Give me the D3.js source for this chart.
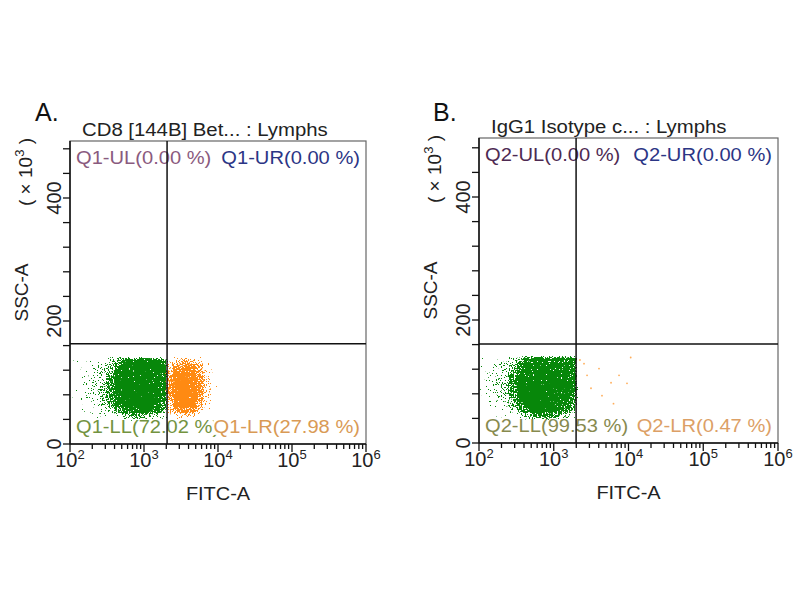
<!DOCTYPE html>
<html lang="en">
<head>
<meta charset="UTF-8">
<title>Flow cytometry quadrants</title>
<script src="https://d3js.org/d3.v7.min.js"></script>
<style>
  body { margin: 0; background: #fff; }
  text { font-family: "Liberation Sans", Arial, sans-serif; }
</style>
</head>
<body>
<svg id="canvas" width="800" height="600"></svg>
<script>
// ---- data ----
// density grids: rows go from SSC 140k (top) down to 40k in 10k steps,
// columns are 0.1-decade FITC bins starting at the given log10 value. 0..9 = empty..solid
const ssc_rows_top = 140, ssc_row_step = 10, fitc_col_step = 0.1;

const a_green_start = 2.0;
const a_green = [
  [1,1,1,2,2,3,5,8,8,8,8,8,7],
  [1,1,1,2,3,4,7,9,9,9,9,9,8],
  [1,1,2,2,3,5,8,9,9,9,9,9,8],
  [1,1,2,2,3,6,9,9,9,9,9,9,8],
  [1,1,2,3,4,6,9,9,9,9,9,9,8],
  [1,1,2,3,4,6,9,9,9,9,9,9,8],
  [1,1,2,2,4,6,8,9,9,9,9,9,7],
  [0,1,1,2,3,5,7,9,9,9,9,8,6],
  [0,1,1,1,2,3,5,7,8,8,8,7,5],
  [0,0,0,1,1,1,2,4,5,5,4,3,2]
];
const a_orange_start = 3.3;
const a_orange = [
  [2,4,5,4,3,1,0],
  [4,6,7,7,5,2,0],
  [5,8,9,8,6,2,1],
  [6,9,9,9,7,3,1],
  [6,9,9,9,7,3,1],
  [6,9,9,9,7,3,0],
  [5,9,9,9,6,2,0],
  [4,8,9,8,5,2,0],
  [3,6,7,6,4,1,0],
  [1,2,3,2,1,0,0]
];
const b_green_start = 2.0;
const b_green = [
  [1,1,1,2,3,5,7,8,8,8,8,8,7],
  [1,1,2,3,4,7,9,9,9,9,9,9,8],
  [1,1,2,3,5,8,9,9,9,9,9,9,8],
  [1,2,2,3,6,9,9,9,9,9,9,9,8],
  [1,2,3,4,6,9,9,9,9,9,9,9,8],
  [1,2,3,4,6,9,9,9,9,9,9,9,8],
  [1,1,2,3,5,8,9,9,9,9,9,9,7],
  [1,1,2,2,4,7,9,9,9,9,9,8,6],
  [0,1,1,2,3,5,7,9,9,9,8,7,5],
  [0,0,1,1,1,2,4,6,6,6,5,3,2]
];
// the few events in panel B's lower-right gate: [FITC, SSC (x10^3)]
const b_orange_events = [
  [2540,129],[4030,121],[5840,98],[7470,110],[9550,97],
  [4420,77],[2790,110],[3150,89],[10700,139],[2240,135],[6300,64]
];

const panel_letters = ["A.", "B."];
const panel_titles = ["CD8 [144B] Bet... : Lymphs", "IgG1 Isotype c... : Lymphs"];
const quad_names = [["Q1-UL","Q1-UR","Q1-LL","Q1-LR"], ["Q2-UL","Q2-UR","Q2-LL","Q2-LR"]];
const quad_pcts = [[0.00, 0.00, 72.02, 27.98], [0.00, 0.00, 99.53, 0.47]];
const gate_fitc = [2050, 1990];
const gate_ssc = [163, 161];
const x_decades = [2, 3, 4, 5, 6];
const y_labels = [0, 200, 400];
const x_title = "FITC-A", y_title = "SSC-A", y_unit = "3";

const green = "#07870a", orange = "#ff8a12";

const svg = d3.select("#canvas");
const defs = svg.append("defs");

// grainy look for the density cells, so they read like a dot plot
function speckle(id, color, seed) {
  const f = defs.append("filter").attr("id", id)
    .attr("x", "-5%").attr("y", "-5%").attr("width", "110%").attr("height", "110%")
    .attr("color-interpolation-filters", "sRGB");
  f.append("feTurbulence").attr("type", "fractalNoise").attr("baseFrequency", 0.75)
    .attr("numOctaves", 2).attr("seed", seed).attr("result", "n");
  f.append("feColorMatrix").attr("in", "n").attr("type", "matrix")
    .attr("values", "0 0 0 0 0  0 0 0 0 0  0 0 0 0 0  2 0 0 0 -0.5").attr("result", "na");
  f.append("feGaussianBlur").attr("in", "SourceAlpha").attr("stdDeviation", 1.2).attr("result", "sa");
  f.append("feComposite").attr("in", "sa").attr("in2", "na").attr("operator", "arithmetic")
    .attr("k1", 0).attr("k2", 1.1).attr("k3", 1).attr("k4", -1.08).attr("result", "m");
  f.append("feComponentTransfer").attr("in", "m").attr("result", "mm")
    .append("feFuncA").attr("type", "linear").attr("slope", 30).attr("intercept", 0);
  f.append("feFlood").attr("flood-color", color).attr("result", "c");
  f.append("feComposite").attr("in", "c").attr("in2", "mm").attr("operator", "in");
}
speckle("sp-green", green, 4);
speckle("sp-orange", orange, 9);

// text squeezed a little wider, like the exported figure
function label(parent, x, y, str, size, color, anchor, sx) {
  const g = parent.append("g").attr("transform", `translate(${x},${y}) scale(${sx || 1},1)`);
  const t = g.append("text").attr("font-size", size).attr("fill", color)
    .attr("text-anchor", anchor || "start").text(str);
  return {g, t};
}

const panels = [
  {x0: 70, x1: 366, y0: 141, y1: 444, letterX: 35,
   dens: [{grid: a_green, start: a_green_start, color: green, f: "sp-green"},
          {grid: a_orange, start: a_orange_start, color: orange, f: "sp-orange"}],
   events: [], labelColors: ["#8a5a7e", "#2b3585", "#73933f", "#d99a55"]},
  {x0: 479, x1: 778, y0: 138, y1: 443, letterX: 433,
   dens: [{grid: b_green, start: b_green_start, color: green, f: "sp-green"}],
   events: b_orange_events, labelColors: ["#4e2a52", "#2b3585", "#878a4e", "#dca066"]}
];

panels.forEach((p, i) => {
  const g = svg.append("g");
  const x = d3.scaleLog().domain([1e2, 1e6]).range([p.x0, p.x1]);
  const y = d3.scaleLinear().domain([0, 494]).range([p.y1, p.y1 - 494 * 0.615]);

  // density cells
  p.dens.forEach(d => {
    const dg = g.append("g").attr("filter", `url(#${d.f})`);
    d.grid.forEach((row, r) => {
      row.forEach((v, c) => {
        if (!v) return;
        const lo = d.start + c * fitc_col_step, hi = lo + fitc_col_step;
        const top = ssc_rows_top - r * ssc_row_step;
        dg.append("rect")
          .attr("x", x(Math.pow(10, lo)))
          .attr("width", x(Math.pow(10, hi)) - x(Math.pow(10, lo)) + 0.3)
          .attr("y", y(top))
          .attr("height", y(top - ssc_row_step) - y(top) + 0.3)
          .attr("fill", d.color)
          .attr("fill-opacity", v / 9);
      });
    });
  });
  g.append("g").selectAll("circle").data(p.events).enter().append("circle")
    .attr("cx", d => x(d[0])).attr("cy", d => y(d[1])).attr("r", 0.9)
    .attr("fill", orange).attr("fill-opacity", 0.7);

  // quadrant labels (later ones sit on a white patch, as in the export)
  const txt = quad_names[i].map((n, k) => `${n}(${quad_pcts[i][k].toFixed(2)} %)`);
  const pos = [[p.x0 + 6, p.y0 + 23, "start"], [p.x1 - 6, p.y0 + 23, "end"],
               [p.x0 + 6, p.y1 - 11, "start"], [p.x1 - 6, p.y1 - 11, "end"]];
  txt.forEach((s, k) => {
    const l = label(g, pos[k][0], pos[k][1], s, 19, p.labelColors[k], pos[k][2], 1.06);
    if (k === 3) {
      const bb = l.t.node().getBBox();
      l.g.insert("rect", "text").attr("x", bb.x).attr("y", bb.y + 2)
        .attr("width", bb.width).attr("height", bb.height - 4).attr("fill", "#fff");
    }
  });

  // frame + gates
  g.append("rect").attr("x", p.x0).attr("y", p.y0)
    .attr("width", p.x1 - p.x0).attr("height", p.y1 - p.y0)
    .attr("fill", "none").attr("stroke", "#666").attr("stroke-width", 1.2);
  g.append("line").attr("x1", x(gate_fitc[i])).attr("x2", x(gate_fitc[i]))
    .attr("y1", p.y0).attr("y2", p.y1).attr("stroke", "#111").attr("stroke-width", 1.5);
  g.append("line").attr("x1", p.x0).attr("x2", p.x1)
    .attr("y1", y(gate_ssc[i])).attr("y2", y(gate_ssc[i])).attr("stroke", "#111").attr("stroke-width", 1.5);

  // x axis: log ticks
  const xa = g.append("g").attr("transform", `translate(0,${p.y1})`);
  xa.append("line").attr("x1", p.x0).attr("x2", p.x1).attr("stroke", "#111").attr("stroke-width", 1.5);
  const xt = x.ticks().filter(v => v >= 100 && v <= 1e6);
  xa.selectAll("line.tk").data(xt).enter().append("line").attr("class", "tk")
    .attr("x1", d => x(d)).attr("x2", d => x(d)).attr("y1", 0)
    .attr("y2", d => Math.abs(Math.log10(d) - Math.round(Math.log10(d))) < 1e-9 ? 8 : 5)
    .attr("stroke", "#111").attr("stroke-width", 1.3);
  x_decades.forEach(e => {
    const t = xa.append("text").attr("x", x(Math.pow(10, e))).attr("y", 23)
      .attr("text-anchor", "middle").attr("font-size", 20).attr("fill", "#222");
    t.append("tspan").text("10");
    t.append("tspan").attr("font-size", 13).attr("dy", -8).text(e);
  });
  label(g, (p.x0 + p.x1) / 2, p.y1 + 56, x_title, 19, "#222", "middle", 1.05);

  // y axis
  const ya = g.append("g").attr("transform", `translate(${p.x0},0)`);
  ya.append("line").attr("y1", p.y0).attr("y2", p.y1).attr("stroke", "#111").attr("stroke-width", 1.5);
  ya.selectAll("line.tk").data(d3.range(0, 481, 40)).enter().append("line").attr("class", "tk")
    .attr("x1", -7).attr("x2", 0).attr("y1", d => y(d)).attr("y2", d => y(d))
    .attr("stroke", "#111").attr("stroke-width", 1.3);
  ya.selectAll("text.tl").data(y_labels).enter().append("text").attr("class", "tl")
    .attr("transform", d => `translate(-9,${y(d)}) rotate(-90)`)
    .attr("text-anchor", "middle").attr("font-size", 20).attr("fill", "#222").text(d => d);
  ya.append("text").attr("transform", `translate(-42,${(p.y0 + p.y1) / 2}) rotate(-90)`)
    .attr("text-anchor", "middle").attr("font-size", 19).attr("fill", "#222").text(y_title);
  const u = ya.append("text").attr("transform", `translate(-38,${p.y0 + 31}) rotate(-90)`)
    .attr("text-anchor", "middle").attr("font-size", 19).attr("fill", "#222");
  u.append("tspan").text("( \u00d7 10");
  u.append("tspan").attr("font-size", 13).attr("dy", -8).text(y_unit);
  u.append("tspan").attr("dy", 8).text(" )");

  // titles
  label(svg, p.x0 + 12, p.y0 - 5, panel_titles[i], 18.5, "#222", "start", 1.1);
  label(svg, p.letterX, 121, panel_letters[i], 25, "#111", "start", 1);
});
</script>
</body>
</html>
